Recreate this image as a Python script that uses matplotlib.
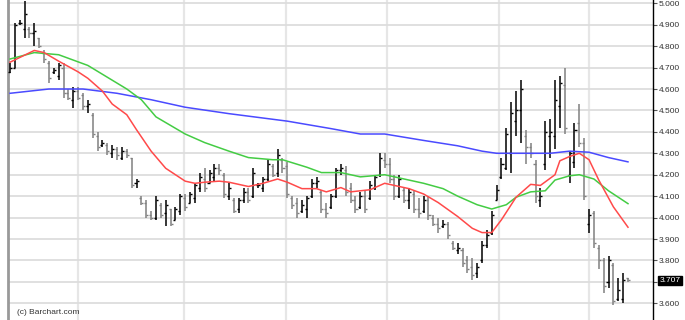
import matplotlib
matplotlib.use("Agg")
import matplotlib.pyplot as plt
import numpy as np

# ---- OHLC data ----
opens = [4.68,4.70,4.91,4.88,4.88,4.86,4.84,4.77,4.72,4.68,4.66,4.70,4.58,4.55,4.59,4.57,
         4.52,4.48,4.38,4.34,4.34,4.30,4.32,4.28,4.31,4.28,4.16,4.09,4.07,4.01,4.00,4.06,4.02,
         4.04,3.99,4.03,4.09,4.07,4.09,4.14,4.18,4.16,4.19,4.23,4.20,4.10,4.08,4.04,
         4.08,4.12,4.10,4.15,4.14,4.18,4.24,4.21,4.27,4.24,4.09,4.07,4.03,4.04,4.10,4.16,
         4.12,4.04,4.05,4.10,4.22,4.22,4.14,4.08,4.05,4.10,4.09,4.14,4.20,4.27,4.25,
         4.18,4.10,4.13,4.08,4.11,4.04,4.03,4.08,4.00,3.97,3.96,3.97,3.88,3.85,
         3.85,3.80,3.77,3.74,3.80,3.87,3.93,4.08,4.19,4.23,4.30,4.45,4.50,4.38,4.33,4.25,4.08,
         4.25,4.38,4.38,4.52,4.62,4.20,4.26,4.44,4.35,3.97,4.02,3.86,3.80,3.70,3.78,3.62,3.62,3.72]
highs = [4.72,4.91,4.92,5.01,4.89,4.91,4.84,4.78,4.73,4.70,4.72,4.72,4.60,4.61,4.61,4.58,
         4.55,4.49,4.40,4.36,4.35,4.34,4.33,4.33,4.32,4.28,4.18,4.10,4.08,4.03,4.10,4.07,4.08,
         4.04,4.05,4.11,4.11,4.12,4.16,4.21,4.23,4.22,4.25,4.25,4.21,4.16,4.09,4.09,
         4.14,4.14,4.23,4.16,4.19,4.27,4.25,4.32,4.28,4.26,4.10,4.09,4.08,4.10,4.18,4.19,
         4.13,4.07,4.11,4.23,4.25,4.24,4.16,4.10,4.12,4.13,4.17,4.20,4.30,4.30,4.28,
         4.20,4.20,4.14,4.14,4.13,4.09,4.10,4.10,4.01,4.00,3.99,3.98,3.89,3.88,
         3.86,3.82,3.81,3.79,3.89,3.94,4.03,4.15,4.28,4.42,4.54,4.59,4.64,4.41,4.35,4.27,4.14,
         4.45,4.46,4.64,4.66,4.70,4.31,4.44,4.53,4.37,4.04,4.03,3.87,3.81,3.82,3.79,3.72,3.74,3.72]
lows = [4.675,4.70,4.90,4.84,4.84,4.80,4.79,4.72,4.63,4.67,4.64,4.56,4.55,4.51,4.55,4.50,
        4.49,4.37,4.31,4.33,4.29,4.28,4.27,4.27,4.28,4.14,4.14,4.06,4.00,3.99,3.99,4.00,3.96,
        3.96,3.99,4.01,4.03,4.07,4.07,4.12,4.12,4.16,4.17,4.20,4.09,4.08,4.02,4.02,
        4.07,4.07,4.09,4.14,4.12,4.17,4.19,4.19,4.21,4.09,4.04,4.00,4.02,4.00,4.09,4.14,
        4.02,4.00,4.04,4.09,4.20,4.10,4.07,4.02,4.04,4.02,4.08,4.13,4.19,4.23,4.16,
        4.08,4.09,4.07,4.04,4.02,4.00,4.02,3.99,3.96,3.93,3.95,3.90,3.85,3.83,
        3.77,3.74,3.71,3.72,3.79,3.86,3.92,4.08,4.18,4.22,4.21,4.38,4.35,4.25,4.28,4.07,4.05,
        4.22,4.28,4.32,4.42,4.39,4.16,4.23,4.33,4.08,3.93,3.86,3.76,3.65,3.67,3.59,3.61,3.60,3.70]
closes = [4.70,4.90,4.91,4.95,4.86,4.87,4.80,4.74,4.65,4.69,4.71,4.58,4.56,4.59,4.56,4.52,
          4.53,4.39,4.33,4.35,4.31,4.32,4.29,4.31,4.29,4.15,4.17,4.07,4.01,4.00,4.08,4.01,4.06,
          3.97,4.04,4.10,4.05,4.11,4.15,4.19,4.14,4.21,4.23,4.22,4.11,4.14,4.03,4.08,
          4.12,4.08,4.21,4.15,4.18,4.25,4.20,4.29,4.23,4.11,4.06,4.02,4.06,4.09,4.16,4.17,
          4.04,4.02,4.10,4.22,4.23,4.12,4.08,4.04,4.10,4.04,4.15,4.19,4.28,4.25,4.18,
          4.10,4.18,4.08,4.12,4.04,4.02,4.08,4.01,3.97,3.95,3.97,3.92,3.86,3.86,
          3.79,3.76,3.73,3.77,3.87,3.92,4.01,4.13,4.25,4.39,4.49,4.50,4.60,4.33,4.30,4.10,4.10,
          4.40,4.40,4.55,4.63,4.42,4.30,4.41,4.35,4.10,4.01,3.88,3.80,3.68,3.80,3.61,3.66,3.71,3.707]

# ---- moving averages (bar index, value) ----
red_idx = [0,5,7,10,14,16,19,21,24,26,29,32,36,38,40,43,45,49,52,55,57,60,63,65,68,70,74,77,79,82,
           85,88,92,95,97,99,101,104,107,109,112,113,115,117,119,121,124,127]
red_val = [4.725,4.78,4.77,4.73,4.68,4.65,4.59,4.53,4.48,4.41,4.31,4.23,4.17,4.16,4.165,4.17,4.165,
           4.145,4.16,4.18,4.165,4.135,4.135,4.12,4.14,4.12,4.13,4.16,4.15,4.135,4.11,4.07,4.005,
           3.95,3.93,3.93,3.99,4.095,4.155,4.15,4.20,4.265,4.285,4.30,4.27,4.175,4.05,3.955]
green_idx = [0,5,10,16,20,24,27,30,36,40,45,49,54,56,61,64,68,72,77,81,85,89,92,96,99,102,104,107,
             110,112,115,117,120,123,127]
green_val = [4.74,4.77,4.76,4.71,4.655,4.60,4.55,4.47,4.39,4.35,4.31,4.28,4.27,4.27,4.235,4.21,4.21,
             4.19,4.20,4.18,4.16,4.135,4.10,4.06,4.04,4.06,4.095,4.12,4.125,4.175,4.195,4.20,4.18,
             4.125,4.065]
blue_idx = [0,8,15,22,29,36,45,57,66,72,77,85,92,97,100,106,111,115,119,123,127]
blue_val = [4.58,4.60,4.60,4.58,4.55,4.515,4.485,4.45,4.415,4.39,4.39,4.36,4.335,4.31,4.30,4.30,
            4.30,4.31,4.305,4.28,4.26]

y_ticks = [3.6,3.7,3.8,3.9,4.0,4.1,4.2,4.3,4.4,4.5,4.6,4.7,4.8,4.9,5.0]
v_grid = [14.0,35.8,56.7,77.5,100.5,119.0]
last_price = "3.707"

W, H = 685, 320
fig = plt.figure(figsize=(W/100, H/100), dpi=100)
ax = fig.add_axes([8/W, 0, (653-8)/W, 1])

for g in v_grid:
    ax.axvline(g, color="#e6e6e6", lw=1.6, zorder=0)
for t in y_ticks:
    ax.axhline(t, color="#dddddd", lw=1.3, zorder=0)

x = np.arange(len(opens))
tk = 0.42
for i in x:
    col = "#000000" if closes[i] >= opens[i] else "#808080"
    ax.vlines(i, lows[i], highs[i], color=col, lw=1.1, zorder=3)
    ax.hlines(opens[i], i - tk, i, color=col, lw=1.0, zorder=3)
    ax.hlines(closes[i], i, i + tk, color=col, lw=1.0, zorder=3)

ax.plot(blue_idx, blue_val, color="#4a4aff", lw=1.1, zorder=4)
ax.plot(green_idx, green_val, color="#44cc44", lw=1.1, zorder=4)
ax.plot(red_idx, red_val, color="#ff4a4a", lw=1.1, zorder=4)

ax.set_xlim(-0.41, 132.14)
ax.set_ylim(3.522, 5.0154)
ax.set_xticks([])
ax.yaxis.tick_right()
ax.set_yticks(y_ticks)
labels = [f"{t:.3f}" for t in y_ticks]
labels[y_ticks.index(3.7)] = ""  # hidden behind the last-price box
ax.set_yticklabels(labels, fontsize=6, family="Liberation Sans", color="#333333")
ax.tick_params(axis="y", length=3, width=0.8, color="#555555", pad=1)
for s in ["top", "bottom"]:
    ax.spines[s].set_visible(False)
ax.spines["right"].set_color("#000000")
ax.spines["right"].set_linewidth(1.0)
ax.spines["left"].set_color("#999999")
ax.spines["left"].set_linewidth(2.0)

ax.annotate(last_price, xy=(1.0, closes[-1]), xycoords=ax.get_yaxis_transform(),
            xytext=(4.5, 0), textcoords="offset points",
            ha="left", va="center", fontsize=6, family="Liberation Sans", color="white",
            bbox=dict(boxstyle="square,pad=0.15", fc="black", ec="black"),
            annotation_clip=False, zorder=10)

ax.text(0.0135, 0.022, "(c) Barchart.com", transform=ax.transAxes, fontsize=6,
        family="Liberation Sans", color="#333333", ha="left", va="center")

fig.savefig("out.png", dpi=100)
